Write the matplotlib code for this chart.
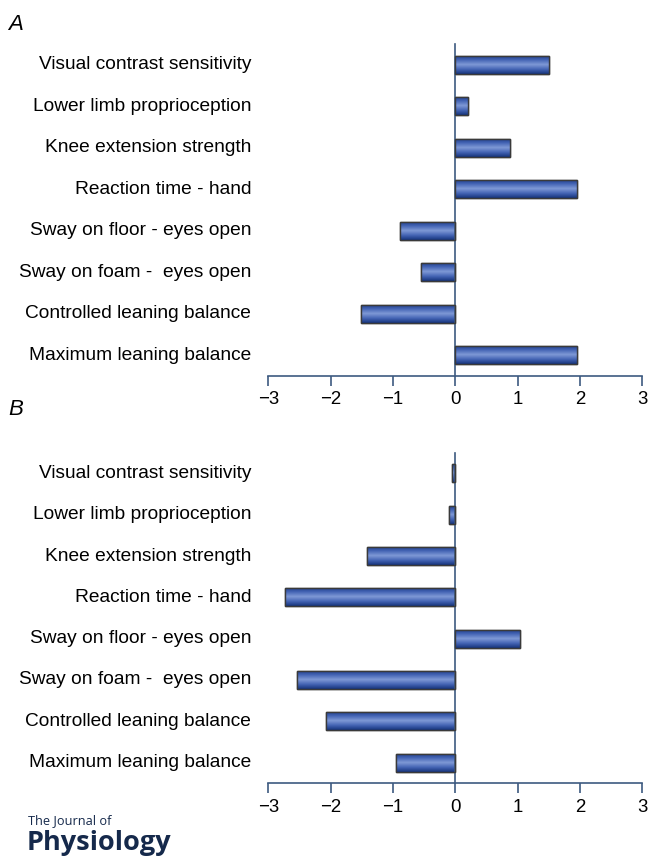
import numpy as np
import matplotlib
matplotlib.use("Agg")
import matplotlib.pyplot as plt
from matplotlib.colors import LinearSegmentedColormap

plt.rcParams["font.family"] = ["Liberation Sans", "DejaVu Sans"]

# measures, listed top to bottom as in the figure
measures = [
    "Visual contrast sensitivity",
    "Lower limb proprioception",
    "Knee extension strength",
    "Reaction time - hand",
    "Sway on floor - eyes open",
    "Sway on foam -  eyes open",
    "Controlled leaning balance",
    "Maximum leaning balance",
]
values_a = [1.5, 0.2, 0.88, 1.96, -0.88, -0.55, -1.52, 1.96]
values_b = [-0.06, -0.1, -1.42, -2.73, 1.04, -2.54, -2.07, -0.95]
xticks = [-3, -2, -1, 0, 1, 2, 3]

axis_col = "#3d5a80"
bar_cmap = LinearSegmentedColormap.from_list(
    "barshade", ["#16347c", "#4565b5", "#7f99d6", "#4565b5", "#1a3a86"])
FS = 13.8


def panel(ax, vals):
    ypos = np.arange(len(measures))[::-1]
    bars = ax.barh(ypos, vals, height=0.44, color="#3f60b0",
                   edgecolor="#3a3a3a", linewidth=1.0, zorder=2)
    grad = np.linspace(0, 1, 64).reshape(-1, 1)
    for b in bars:
        x0, y0 = b.get_x(), b.get_y()
        w, h = b.get_width(), b.get_height()
        im = ax.imshow(grad, cmap=bar_cmap, aspect="auto", zorder=2.5,
                       extent=[x0, x0 + w, y0, y0 + h], origin="lower")
        im.set_clip_path(b)
    # outline on top of the shading
    ax.barh(ypos, vals, height=0.44, color="none",
            edgecolor="#3a3a3a", linewidth=1.0, zorder=3)

    ax.set_xlim(-3, 3)
    ax.set_ylim(-0.5, 7.5)
    ax.set_yticks(ypos)
    ax.set_yticklabels([])
    ax.set_xticks(xticks)
    ax.set_xticklabels([str(t).replace("-", "\u2212") for t in xticks], fontsize=13.4)
    ax.spines["top"].set_visible(False)
    ax.spines["right"].set_visible(False)
    ax.spines["left"].set_position(("data", 0))
    ax.spines["left"].set_color(axis_col)
    ax.spines["bottom"].set_color(axis_col)
    ax.spines["left"].set_linewidth(1.2)
    ax.spines["bottom"].set_linewidth(1.2)
    ax.tick_params(axis="y", length=0, pad=0)
    ax.tick_params(axis="x", length=7, width=1.2, color=axis_col, pad=4)

    # labels sit at the left of the axes box, not at the centred spine
    for y, name in zip(ypos, measures):
        ax.annotate(name, xy=(0, y), xycoords=("axes fraction", "data"),
                    xytext=(-17, 0), textcoords="offset pixels",
                    ha="right", va="center", fontsize=FS)


fig = plt.figure(figsize=(6.48, 8.64), dpi=100)
left = 268.3 / 648
width = 374 / 648

ax_a = fig.add_axes([left, 1 - 376 / 864, width, 332 / 864])
ax_b = fig.add_axes([left, 1 - 783.3 / 864, width, 330.6 / 864])

panel(ax_a, values_a)
panel(ax_b, values_b)

fig.text(8 / 648, 1 - 25 / 864, "A", fontsize=16, style="italic", va="center")
fig.text(8 / 648, 1 - 410 / 864, "B", fontsize=16, style="italic", va="center")

fig.text(28 / 648, 1 - 821 / 864, "The Journal of", fontsize=9.2,
         family="Open Sans", color="#15294b", va="center")
fig.text(27 / 648, 1 - 843 / 864, "Physiology", fontsize=19.5, weight="bold",
         family="Open Sans", color="#15294b", va="center")

fig.savefig("out.png", dpi=100)
